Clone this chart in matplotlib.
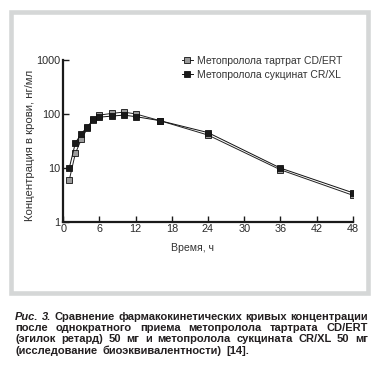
import matplotlib
matplotlib.use("Agg")
import matplotlib.pyplot as plt
from matplotlib.patches import Rectangle

# Data (hours, ng/ml)
time_h = [1, 2, 3, 4, 5, 6, 8, 10, 12, 16, 24, 36, 48]
tartrate = [6.0, 18.5, 34, 54, 78, 95, 102, 108, 100, 75, 40.5, 9.2, 3.1]
succinate = [10.0, 29, 43, 58, 79, 87, 91, 95, 89, 75, 45, 9.9, 3.45]

label_tartrate = "Метопролола тартрат CD/ERT"
label_succinate = "Метопролола сукцинат CR/XL"
x_ticks = [0, 6, 12, 18, 24, 30, 36, 42, 48]
y_ticks = [1, 10, 100, 1000]

caption_lines = [
    "Рис. 3. Сравнение фармакокинетических кривых концентрации",
    "после однократного приема метопролола тартрата CD/ERT",
    "(эгилок ретард) 50 мг и метопролола сукцината CR/XL 50 мг",
    "(исследование биоэквивалентности) [14].",
]

W, H = 379, 378
plt.rcParams['font.family'] = ['Liberation Sans', 'DejaVu Sans']
fig = plt.figure(figsize=(W / 100, H / 100), dpi=100)

# light grey frame around the chart
fig.patches.append(Rectangle((10.5 / W, 1 - 292.5 / H), (368.3 - 10.5) / W, (292.5 - 11.5) / H,
                             transform=fig.transFigure, fill=False,
                             edgecolor='#d5d7d7', linewidth=3.3))

ax = fig.add_axes([63.3 / W, 1 - 221.7 / H, (352.7 - 63.3) / W, (221.7 - 60) / H])

ax.plot(time_h, tartrate, color='#222222', lw=0.7, marker='s', ms=4.4,
        mfc='#9a9a9a', mec='#111111', mew=0.6, label=label_tartrate)
ax.plot(time_h, succinate, color='#111111', lw=0.7, marker='s', ms=4.4,
        mfc='#1a1a1a', mec='#111111', mew=0.6, label=label_succinate)

ax.set_yscale('log')
ax.set_xlim(0, 48)
ax.set_ylim(1, 1000)
ax.set_xticks(x_ticks)
ax.set_yticks(y_ticks)
ax.set_yticklabels([str(v) for v in y_ticks])
ax.minorticks_off()
ax.tick_params(direction='in', length=4, width=1.0, labelsize=7.8, pad=2,
               color='#1a1a1a', labelcolor='#2a2a2a')
for s in ['top', 'right']:
    ax.spines[s].set_visible(False)
for s in ['left', 'bottom']:
    ax.spines[s].set_linewidth(1.6)
    ax.spines[s].set_color('#1a1a1a')

ax.set_ylabel("Концентрация в крови, нг/мл", fontsize=8.2, color='#333333')
ax.yaxis.set_label_coords(-0.098, 0.47)
ax.set_xlabel("Время, ч", fontsize=7.6, color='#333333')
ax.xaxis.set_label_coords(0.445, -0.13)

ax.legend(loc='upper left', bbox_to_anchor=(182 / W, 1 - 56 / H),
          bbox_transform=fig.transFigure, frameon=False, fontsize=7.5,
          handlelength=1.05, handletextpad=0.4, labelspacing=0.35,
          borderpad=0, borderaxespad=0, labelcolor='#333333')

# caption, justified word by word
renderer = fig.canvas.get_renderer()
cap_left, cap_right = 15, 368
cap_y = [316.7, 328.3, 339.5, 350.8]
cap_font = ['Liberation Sans', 'DejaVu Sans']
for i, line in enumerate(caption_lines):
    words = line.split(' ')
    texts = []
    for j, w in enumerate(words):
        style = 'italic' if (i == 0 and j < 2) else 'normal'
        t = fig.text(0, 1 - cap_y[i] / H, w, fontsize=8.0, fontweight='bold',
                     family=cap_font, style=style, color='#231f20', va='center')
        texts.append(t)
    widths = [t.get_window_extent(renderer).width for t in texts]
    if i < len(caption_lines) - 1:
        gap = (cap_right - cap_left - sum(widths)) / (len(words) - 1)
    else:
        gap = 5.0
    x = cap_left
    for t, w in zip(texts, widths):
        t.set_x(x / W)
        x += w + gap

fig.savefig("out.png", dpi=100)
